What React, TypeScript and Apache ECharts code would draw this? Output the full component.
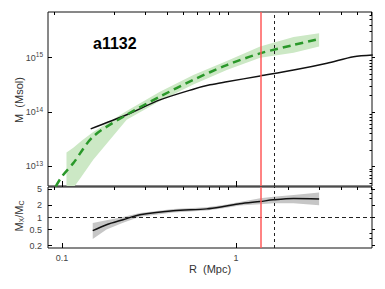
import React, { useEffect, useRef } from "react";
import * as echarts from "echarts";

// ---------- data ----------
// top panel: green (dashed) profile, R in Mpc, M in Msol
const R_GREEN = [0.092, 0.1, 0.116, 0.151, 0.235, 0.365, 0.568, 0.884, 1.375, 2.14, 3.0];
const M_GREEN = [4.3e12, 6.6e12, 1.15e13, 3.55e13, 8.9e13, 1.92e14, 3.9e14, 7.3e14, 1.2e15, 1.71e15, 2.2e15];
// green uncertainty band
const R_GBAND = [0.106, 0.116, 0.13, 0.151, 0.235, 0.365, 0.568, 0.884, 1.375, 2.14, 3.0];
const M_GBAND_HI = [1.8e13, 2.2e13, 3.0e13, 4.3e13, 1.05e14, 2.35e14, 4.8e14, 8.7e14, 1.6e15, 2.4e15, 2.8e15];
const M_GBAND_LO = [2e12, 4e12, 6.7e12, 1.33e13, 7.2e13, 1.6e14, 3.2e14, 5.9e14, 1.0e15, 1.23e15, 1.6e15];
// top panel: black profile
const R_BLACK = [0.146, 0.235, 0.365, 0.568, 0.708, 0.884, 1.375, 2.14, 3.33, 4.73, 6.1];
const M_BLACK = [4.9e13, 8.9e13, 1.67e14, 2.63e14, 3.16e14, 3.6e14, 4.6e14, 5.9e14, 7.9e14, 1.04e15, 1.12e15];
// bottom panel: ratio M_X / M_C
const R_RATIO = [0.15, 0.18, 0.224, 0.28, 0.435, 0.678, 0.845, 1.05, 1.375, 1.64, 2.14, 3.0];
const RATIO = [0.47, 0.66, 0.88, 1.17, 1.47, 1.64, 1.87, 2.19, 2.5, 2.75, 2.96, 2.9];
const RATIO_HI = [0.73, 0.86, 1.03, 1.3, 1.62, 1.8, 2.05, 2.45, 3.0, 3.3, 3.66, 4.17];
const RATIO_LO = [0.29, 0.5, 0.74, 1.04, 1.33, 1.49, 1.7, 1.98, 2.15, 2.25, 2.28, 2.03];
// vertical markers (Mpc)
const R_RED = 1.38;
const R_DASHED = 1.65;
const RATIO_REF = 1;
// axes
const X_RANGE = [0.083, 6.04];
const M_RANGE = [4.37e12, 6.9e15];
const RATIO_RANGE = [0.174, 5.75];
const X_MAJOR = [0.1, 1];
const X_MINOR = [0.09, 0.2, 0.3, 0.4, 0.5, 0.6, 0.7, 0.8, 0.9, 2, 3, 4, 5, 6];
const M_MAJOR = [1e13, 1e14, 1e15];
const M_MINOR = [5e12, 6e12, 7e12, 8e12, 9e12, 2e13, 3e13, 4e13, 5e13, 6e13, 7e13, 8e13, 9e13,
  2e14, 3e14, 4e14, 5e14, 6e14, 7e14, 8e14, 9e14, 2e15, 3e15, 4e15, 5e15, 6e15];
const RATIO_MAJOR = [0.2, 0.5, 1, 2, 5];
const RATIO_MINOR = [0.3, 0.4, 3, 4];

const L = Math.log10;
const FONT = "'Liberation Sans', Arial, Helvetica, sans-serif";

function band(xs: number[], lo: number[], hi: number[], color: string) {
  return (params: any, api: any) => {
    if (params.dataIndex !== 0) return null;
    const pts: number[][] = [];
    for (let i = 0; i < xs.length; i++) pts.push(api.coord([L(xs[i]), L(hi[i])]));
    for (let i = xs.length - 1; i >= 0; i--) pts.push(api.coord([L(xs[i]), L(lo[i])]));
    return { type: "polygon", shape: { points: pts }, style: { fill: color } };
  };
}

function axisBase(extra: any) {
  return Object.assign(
    {
      type: "value",
      axisLine: { show: false, onZero: false },
      splitLine: { show: false },
      axisLabel: { show: false },
    },
    extra
  );
}

export default function App() {
  const ref = useRef<HTMLDivElement>(null);
  useEffect(() => {
    if (!ref.current) return;
    const chart = echarts.init(ref.current, null, { renderer: "svg" });
    const xr = [L(X_RANGE[0]), L(X_RANGE[1])];
    const mr = [L(M_RANGE[0]), L(M_RANGE[1])];
    const rr = [L(RATIO_RANGE[0]), L(RATIO_RANGE[1])];
    const lab = { color: "#444", fontSize: 9, fontFamily: FONT };

    const xAxes: any[] = [];
    const yAxes: any[] = [];
    [0, 1].forEach((g) => {
      // x major inside
      xAxes.push(
        axisBase({
          gridIndex: g,
          min: xr[0],
          max: xr[1],
          axisTick: { show: true, inside: true, length: 5, customValues: X_MAJOR.map(L), lineStyle: { color: "#000" } },
          axisLabel:
            g === 1
              ? {
                  show: true,
                  customValues: X_MAJOR.map(L),
                  margin: 5,
                  ...lab,
                  formatter: (v: number) => String(Number(Math.pow(10, v).toPrecision(2))),
                }
              : { show: false },
        })
      );
      // x major outside
      xAxes.push(
        axisBase({
          gridIndex: g,
          min: xr[0],
          max: xr[1],
          axisTick: { show: g === 1, inside: false, length: 2, customValues: X_MAJOR.map(L), lineStyle: { color: "#000" } },
        })
      );
      // x minor
      xAxes.push(
        axisBase({
          gridIndex: g,
          min: xr[0],
          max: xr[1],
          axisTick: { show: true, inside: true, length: 3, customValues: X_MINOR.map(L), lineStyle: { color: "#000" } },
        })
      );
      const yr = g === 0 ? mr : rr;
      const maj = g === 0 ? M_MAJOR : RATIO_MAJOR;
      const min = g === 0 ? M_MINOR : RATIO_MINOR;
      yAxes.push(
        axisBase({
          gridIndex: g,
          min: yr[0],
          max: yr[1],
          axisTick: { show: true, inside: true, length: 4, customValues: maj.map(L), lineStyle: { color: "#000" } },
          axisLabel: {
            show: true,
            customValues: maj.map(L),
            margin: g === 0 ? 5 : 6,
            ...lab,
            formatter:
              g === 0
                ? (v: number) => `10{s|${Math.round(v)}}`
                : (v: number) => String(Number(Math.pow(10, v).toPrecision(2))),
            rich: { s: { fontSize: 6.5, color: "#444", fontFamily: FONT, padding: [0, 0, 6, 0] } },
          },
        })
      );
      yAxes.push(
        axisBase({
          gridIndex: g,
          min: yr[0],
          max: yr[1],
          axisTick: { show: true, inside: false, length: 3, customValues: maj.map(L), lineStyle: { color: "#000" } },
        })
      );
      yAxes.push(
        axisBase({
          gridIndex: g,
          min: yr[0],
          max: yr[1],
          axisTick: { show: true, inside: true, length: 2.5, customValues: min.map(L), lineStyle: { color: "#000" } },
        })
      );
    });

    const vlines = (withRed: boolean) => ({
      silent: true,
      symbol: "none",
      label: { show: false },
      data: [
        { xAxis: L(R_RED), lineStyle: { color: "#ff5a5a", width: 1.5, type: "solid" } },
        { xAxis: L(R_DASHED), lineStyle: { color: "#222", width: 1, type: [3, 3] } },
      ],
    });

    chart.setOption({
      animation: false,
      grid: [
        { left: 48, top: 12, width: 324, height: 174, show: true, borderColor: "#111", borderWidth: 1 },
        { left: 48, top: 187, width: 324, height: 61, show: true, borderColor: "#111", borderWidth: 1 },
      ],
      xAxis: xAxes,
      yAxis: yAxes,
      series: [
        {
          type: "custom",
          xAxisIndex: 0,
          yAxisIndex: 0,
          clip: true,
          renderItem: band(R_GBAND, M_GBAND_LO, M_GBAND_HI, "#cce8c5"),
          data: R_GBAND.map((r, i) => [L(r), L(M_GBAND_LO[i]), L(M_GBAND_HI[i])]),
          encode: { x: 0, y: [1, 2] },
          z: 1,
        },
        {
          type: "line",
          xAxisIndex: 0,
          yAxisIndex: 0,
          data: R_BLACK.map((r, i) => [L(r), L(M_BLACK[i])]),
          showSymbol: false,
          smooth: 0.3,
          lineStyle: { color: "#111", width: 1.5 },
          markLine: vlines(true),
          z: 3,
        },
        {
          type: "line",
          xAxisIndex: 0,
          yAxisIndex: 0,
          data: R_GREEN.map((r, i) => [L(r), L(M_GREEN[i])]),
          showSymbol: false,
          smooth: 0.3,
          lineStyle: { color: "#2a982a", width: 2.5, type: [8, 5] },
          z: 4,
        },
        {
          type: "custom",
          xAxisIndex: 3,
          yAxisIndex: 3,
          clip: true,
          renderItem: band(R_RATIO, RATIO_LO, RATIO_HI, "#c6c6c6"),
          data: R_RATIO.map((r, i) => [L(r), L(RATIO_LO[i]), L(RATIO_HI[i])]),
          encode: { x: 0, y: [1, 2] },
          z: 1,
        },
        {
          type: "line",
          xAxisIndex: 3,
          yAxisIndex: 3,
          data: R_RATIO.map((r, i) => [L(r), L(RATIO[i])]),
          showSymbol: false,
          smooth: 0.3,
          lineStyle: { color: "#111", width: 1.5 },
          markLine: {
            silent: true,
            symbol: "none",
            label: { show: false },
            data: [
              { yAxis: L(RATIO_REF), lineStyle: { color: "#222", width: 1, type: [4, 3] } },
              { xAxis: L(R_RED), lineStyle: { color: "#ff5a5a", width: 1.5, type: "solid" } },
              { xAxis: L(R_DASHED), lineStyle: { color: "#222", width: 1, type: [3, 3] } },
            ],
          },
          z: 3,
        },
      ],
      graphic: [
        {
          type: "text",
          x: 93,
          y: 43,
          style: { text: "a1132", font: `bold 16px ${FONT}`, fill: "#000", verticalAlign: "middle", align: "left" },
        },
        {
          type: "text",
          x: 19,
          y: 100,
          rotation: Math.PI / 2,
          style: { text: "M  (Msol)", font: `11px ${FONT}`, fill: "#333", align: "center", verticalAlign: "middle" },
        },
        {
          type: "text",
          x: 19,
          y: 216,
          rotation: Math.PI / 2,
          style: {
            text: "M{s|X}/M{s|C}",
            font: `11px ${FONT}`,
            fill: "#333",
            align: "center",
            verticalAlign: "middle",
            rich: { s: { fontSize: 7, fill: "#333", fontFamily: FONT, padding: [5, 0, 0, 0] } },
          },
        },
        {
          type: "text",
          x: 210,
          y: 269,
          style: { text: "R  (Mpc)", font: `11px ${FONT}`, fill: "#333", align: "center", verticalAlign: "middle" },
        },
      ],
    });
    return () => chart.dispose();
  }, []);
  return <div ref={ref} style={{ position: "absolute", left: 0, top: 0, width: 385, height: 289 }} />;
}
